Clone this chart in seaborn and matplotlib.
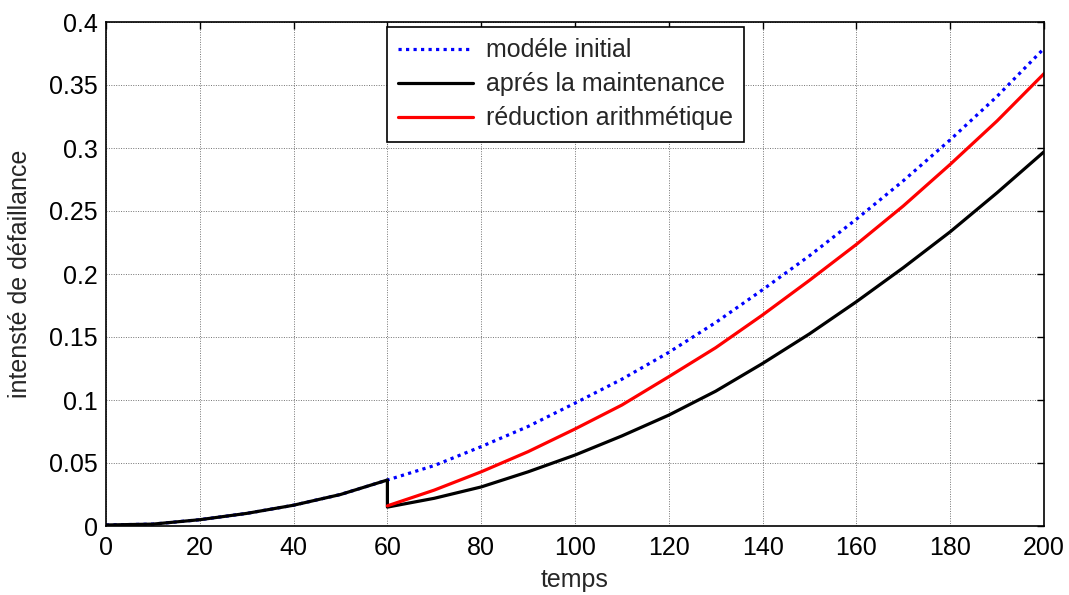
import matplotlib
matplotlib.use("Agg")
import matplotlib.pyplot as plt
from matplotlib.ticker import FormatStrFormatter
import pandas as pd
import seaborn as sns

# Failure intensity of the initial model (time in steps of 10)
t_initial = [0, 10, 20, 30, 40, 50, 60, 70, 80, 90, 100, 110, 120, 130, 140,
             150, 160, 170, 180, 190, 200]
lam_initial = [0.0008, 0.0015, 0.0050, 0.0100, 0.0165, 0.0250, 0.0365, 0.0480,
               0.0630, 0.0790, 0.0975, 0.1165, 0.1378, 0.1615, 0.1875, 0.2145,
               0.2435, 0.2740, 0.3065, 0.3410, 0.3790]

# After maintenance at t = 60 (drop then new growth)
t_maint = [0, 10, 20, 30, 40, 50, 60, 60, 70, 80, 90, 100, 110, 120, 130, 140,
           150, 160, 170, 180, 190, 200]
lam_maint = [0.0008, 0.0015, 0.0050, 0.0100, 0.0165, 0.0250, 0.0365, 0.0150,
             0.0220, 0.0310, 0.0430, 0.0563, 0.0715, 0.0880, 0.1070, 0.1290,
             0.1525, 0.1780, 0.2050, 0.2335, 0.2645, 0.2970]

# Arithmetic reduction of intensity after t = 60
t_arith = [60, 70, 80, 90, 100, 110, 120, 130, 140, 150, 160, 170, 180, 190, 200]
lam_arith = [0.0160, 0.0285, 0.0430, 0.0590, 0.0770, 0.0960, 0.1185, 0.1415,
             0.1675, 0.1950, 0.2235, 0.2540, 0.2870, 0.3215, 0.3590]

labels = ["modéle initial", "aprés la maintenance", "réduction arithmétique"]
x_ticks = [0, 20, 40, 60, 80, 100, 120, 140, 160, 180, 200]
y_ticks = [0, 0.05, 0.1, 0.15, 0.2, 0.25, 0.3, 0.35, 0.4]

FS = 18

sns.set_theme(style="white")
plt.rcParams["font.family"] = ["Liberation Sans", "DejaVu Sans"]
plt.rcParams["font.size"] = FS

fig = plt.figure(figsize=(10.69, 5.95), dpi=100)
ax = fig.add_axes([106 / 1069, 1 - 526 / 595, (1044 - 106) / 1069, (526 - 22) / 595])

df_init = pd.DataFrame({"t": t_initial, "lam": lam_initial})
df_maint = pd.DataFrame({"t": t_maint, "lam": lam_maint})
df_arith = pd.DataFrame({"t": t_arith, "lam": lam_arith})

sns.lineplot(data=df_init, x="t", y="lam", ax=ax, color="#0000ff", lw=2.3,
             estimator=None, sort=False, label=labels[0])
sns.lineplot(data=df_maint, x="t", y="lam", ax=ax, color="black", lw=2.3,
             estimator=None, sort=False, label=labels[1])
sns.lineplot(data=df_arith, x="t", y="lam", ax=ax, color="#ff0000", lw=2.3,
             estimator=None, sort=False, label=labels[2])

blue_line = ax.get_lines()[0]
blue_line.set_dashes([1.0, 1.35])
blue_line.set_dash_capstyle("butt")

ax.set_xlim(0, 200)
ax.set_ylim(0, 0.4)
ax.set_xticks(x_ticks)
ax.set_yticks(y_ticks)
ax.yaxis.set_major_formatter(FormatStrFormatter("%g"))
ax.grid(True, color="#444444", linestyle=(0, (1, 1.5)), linewidth=0.7, alpha=0.75)
ax.tick_params(direction="in", length=5, width=1, top=True, right=True,
               colors="black", labelsize=FS, pad=6)
ax.tick_params(axis="x", pad=7)
for sp in ax.spines.values():
    sp.set_color("black")
    sp.set_linewidth(1.2)

ax.set_xlabel("temps", fontsize=FS, labelpad=6)
ax.set_ylabel("intensté de défaillance", fontsize=FS, labelpad=12)

leg = ax.legend(loc="upper left", bbox_to_anchor=(387 / 1069, 1 - 27 / 595),
                bbox_transform=fig.transFigure, borderaxespad=0, fancybox=False,
                frameon=True, edgecolor="black", fontsize=FS, handlelength=3.0,
                handletextpad=0.5, labelspacing=0.4, borderpad=0.45)
leg.get_frame().set_linewidth(1.2)
leg.get_frame().set_alpha(1)

fig.savefig("out.png", dpi=100)
